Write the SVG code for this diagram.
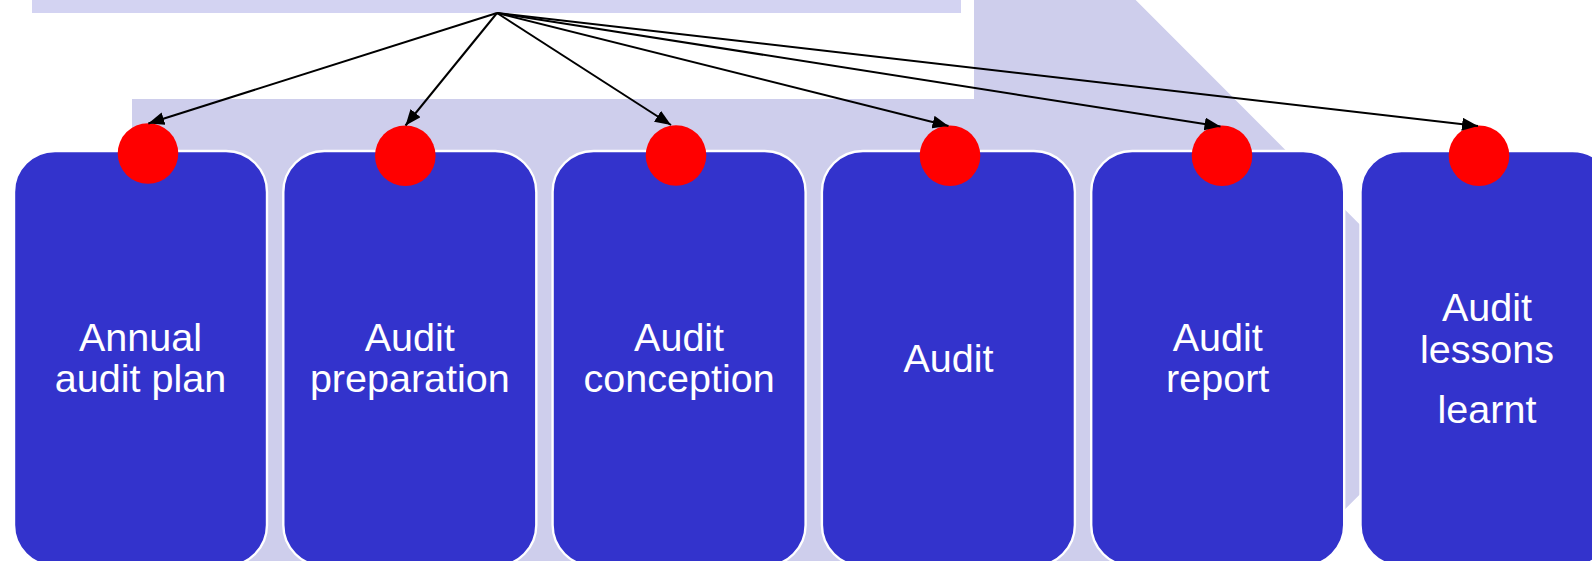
<svg xmlns="http://www.w3.org/2000/svg" width="1592" height="561" viewBox="0 0 1592 561">
  <defs>
    <style>
      .step { fill: #3333CC; stroke: #FFFFFF; stroke-width: 2.4; }
      .dot { fill: #FF0000; }
      .label { fill: #FFFFFF; font-family: "Liberation Sans", Arial, sans-serif; font-size: 39.5px; text-anchor: middle; }
      .link { stroke: #000000; stroke-width: 2; fill: none; marker-end: url(#head); }
    </style>
    <marker id="head" markerUnits="userSpaceOnUse" markerWidth="16" markerHeight="13" refX="16" refY="6.5" orient="auto">
      <path d="M0,0 L16,6.5 L0,13 z" fill="#000000"/>
    </marker>
  </defs>

  <!-- background band and process arrow -->
  <g id="backdrop">
    <rect x="32" y="0" width="929" height="13" fill="#D3D3F2"/>
    <polygon points="132,99 974,99 974,-162 1494.5,359.5 974,881 974,621 132,621" fill="#CECEEC"/>
  </g>

  <!-- process steps -->
  <g id="step-annual-audit-plan">
    <rect class="step" x="14" y="151" width="253" height="415" rx="41" ry="41"/>
    <text class="label" x="140.5" y="350.5">Annual</text>
    <text class="label" x="140.5" y="391.5">audit plan</text>
  </g>
  <g id="step-audit-preparation">
    <rect class="step" x="283.3" y="151" width="253" height="415" rx="41" ry="41"/>
    <text class="label" x="409.8" y="350.5">Audit</text>
    <text class="label" x="409.8" y="391.5">preparation</text>
  </g>
  <g id="step-audit-conception">
    <rect class="step" x="552.6" y="151" width="253" height="415" rx="41" ry="41"/>
    <text class="label" x="679.1" y="350.5">Audit</text>
    <text class="label" x="679.1" y="391.5">conception</text>
  </g>
  <g id="step-audit">
    <rect class="step" x="821.9" y="151" width="253" height="415" rx="41" ry="41"/>
    <text class="label" x="948.4" y="371.5">Audit</text>
  </g>
  <g id="step-audit-report">
    <rect class="step" x="1091.2" y="151" width="253" height="415" rx="41" ry="41"/>
    <text class="label" x="1217.7" y="350.5">Audit</text>
    <text class="label" x="1217.7" y="391.5">report</text>
  </g>
  <g id="step-audit-lessons-learnt">
    <rect class="step" x="1360.5" y="151" width="253" height="415" rx="41" ry="41"/>
    <text class="label" x="1487" y="320.5">Audit</text>
    <text class="label" x="1487" y="363">lessons</text>
    <text class="label" x="1487" y="423">learnt</text>
  </g>

  <!-- markers on each step -->
  <g id="dots">
    <circle class="dot" cx="148" cy="153.5" r="30.3"/>
    <circle class="dot" cx="405.3" cy="155.8" r="30.3"/>
    <circle class="dot" cx="676" cy="155.5" r="30.3"/>
    <circle class="dot" cx="950" cy="155.7" r="30.3"/>
    <circle class="dot" cx="1222" cy="155.8" r="30.3"/>
    <circle class="dot" cx="1479" cy="155.7" r="30.3"/>
  </g>

  <!-- connectors from the common source point -->
  <g id="connectors">
    <line class="link" x1="497" y1="13" x2="148.3" y2="123.5"/>
    <line class="link" x1="497" y1="13" x2="405.5" y2="125.5"/>
    <line class="link" x1="497" y1="13" x2="671" y2="125"/>
    <line class="link" x1="497" y1="13" x2="948.5" y2="126"/>
    <line class="link" x1="497" y1="13" x2="1220.5" y2="126.5"/>
    <line class="link" x1="497" y1="13" x2="1478" y2="126"/>
  </g>
</svg>
